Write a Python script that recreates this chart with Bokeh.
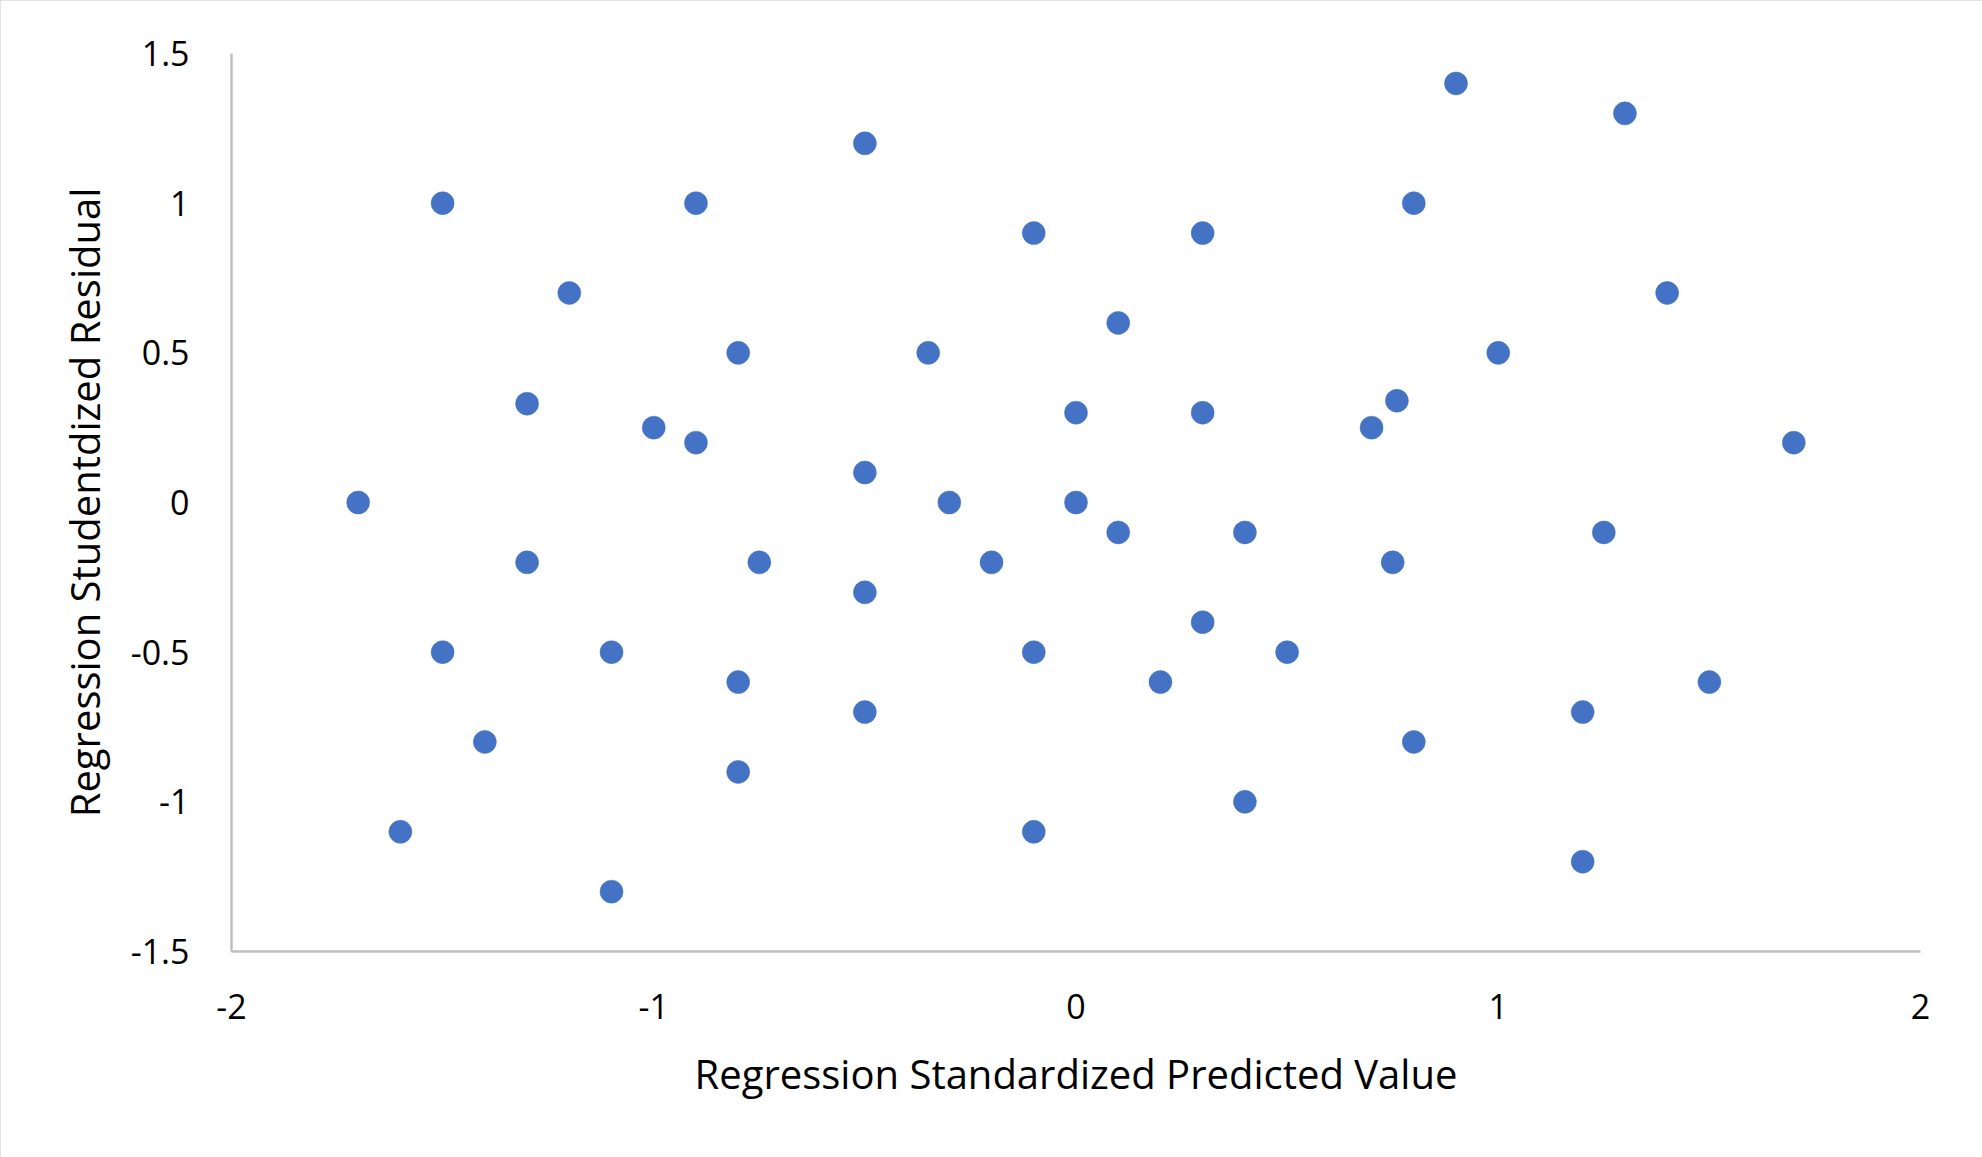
from bokeh.plotting import figure
from bokeh.models import ColumnDataSource, FixedTicker, Range1d
from bokeh.embed import file_html
from bokeh.resources import INLINE

# Data
pred_value = [-1.70, -1.60, -1.50, -1.50, -1.40, -1.30, -1.30, -1.20, -1.10, -1.10,
              -1.00, -0.90, -0.90, -0.80, -0.80, -0.80, -0.75, -0.50, -0.50, -0.50,
              -0.50, -0.35, -0.30, -0.20, -0.10, -0.10, -0.10, 0.00, 0.00, 0.10,
              0.10, 0.20, 0.30, 0.30, 0.30, 0.40, 0.40, 0.50, 0.70, 0.75,
              0.76, 0.80, 0.80, 0.90, 1.00, 1.20, 1.20, 1.25, 1.30, 1.40,
              1.50, 1.70]
residual = [0.00, -1.10, 1.00, -0.50, -0.80, 0.33, -0.20, 0.70, -0.50, -1.30,
            0.25, 1.00, 0.20, 0.50, -0.60, -0.90, -0.20, 1.20, 0.10, -0.30,
            -0.70, 0.50, 0.00, -0.20, 0.90, -0.50, -1.10, 0.30, 0.00, 0.60,
            -0.10, -0.60, 0.90, 0.30, -0.40, -0.10, -1.00, -0.50, 0.25, -0.20,
            0.34, 1.00, -0.80, 1.40, 0.50, -0.70, -1.20, -0.10, 1.30, 0.70,
            -0.60, 0.20]

x_ticks = [-2, -1, 0, 1, 2]
x_tick_labels = ["-2", "-1", "0", "1", "2"]
y_ticks = [-1.5, -1, -0.5, 0, 0.5, 1, 1.5]
y_tick_labels = ["-1.5", "-1", "-0.5", "0", "0.5", "1", "1.5"]

x_title = "Regression Standardized Predicted Value"
y_title = "Regression Studentdized Residual"

FONT = "Open Sans"
W, H = 1982, 1157

p = figure(width=W, height=H, output_backend="svg", toolbar_location=None,
           x_range=Range1d(-2, 2), y_range=Range1d(-1.5, 1.5),
           min_border_left=231, min_border_right=62,
           min_border_top=53, min_border_bottom=206)

p.styles = {"outline": "3px solid #d9d9d9", "outline-offset": "-3px"}

src = ColumnDataSource(data=dict(x=pred_value, y=residual))
p.scatter("x", "y", source=src, size=23, fill_color="#4472C4",
          line_color="#4472C4", line_width=0.5)

p.outline_line_color = None
p.xgrid.visible = False
p.ygrid.visible = False
p.background_fill_color = "white"
p.border_fill_color = "white"

for ax, ticks, labels in ((p.xaxis[0], x_ticks, x_tick_labels),
                          (p.yaxis[0], y_ticks, y_tick_labels)):
    ax.ticker = FixedTicker(ticks=ticks)
    ax.major_label_overrides = {t: l for t, l in zip(ticks, labels)}
    ax.axis_line_color = "#bfbfbf"
    ax.axis_line_width = 2.5
    ax.major_tick_line_color = None
    ax.minor_tick_line_color = None
    ax.major_tick_in = 0
    ax.major_tick_out = 0
    ax.minor_tick_in = 0
    ax.minor_tick_out = 0
    ax.major_label_text_font = FONT
    ax.major_label_text_font_size = "34px"
    ax.major_label_text_color = "#000000"
    ax.axis_label_text_font = FONT
    ax.axis_label_text_font_size = "40px"
    ax.axis_label_text_font_style = "normal"
    ax.axis_label_text_color = "#000000"

p.xaxis.axis_label = x_title
p.yaxis.axis_label = y_title
p.xaxis.major_label_standoff = 42
p.yaxis.major_label_standoff = 42
p.xaxis.axis_label_standoff = 24
p.yaxis.axis_label_standoff = 16

open("out.html", "w").write(file_html(p, INLINE))
